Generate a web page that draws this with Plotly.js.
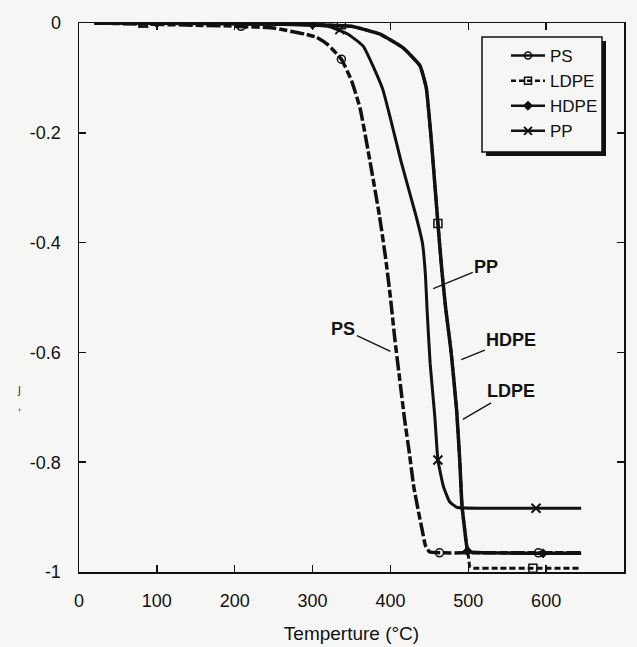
<!DOCTYPE html>
<html>
<head>
<meta charset="utf-8">
<script src="https://cdn.plot.ly/plotly-3.0.1.min.js"></script>
<style>
  html, body { margin: 0; padding: 0; background: #f6f6f4; }
  #chart { width: 637px; height: 647px; }
</style>
</head>
<body>
<div id="chart"></div>
<script>
// Mass-loss curves (weight fraction change vs temperature, °C)
const psTemp = [20, 80, 150, 206, 250, 272, 290, 305, 320, 337, 350, 361, 374, 386, 394, 400, 406, 412, 418, 424, 430, 436, 441, 445, 450, 463, 520, 590, 645];
const psMass = [0, -0.002, -0.004, -0.006, -0.009, -0.015, -0.02, -0.026, -0.04, -0.066, -0.105, -0.155, -0.254, -0.352, -0.43, -0.50, -0.58, -0.65, -0.72, -0.78, -0.845, -0.89, -0.925, -0.952, -0.963, -0.965, -0.965, -0.965, -0.965];

const ldpeTemp = [20, 100, 200, 300, 350, 386, 416, 438, 446, 453, 461, 466, 471, 478, 485, 489, 492, 495.5, 498, 500, 502, 506, 540, 583, 642];
const ldpeMass = [0, 0, -0.001, -0.003, -0.006, -0.02, -0.045, -0.078, -0.118, -0.222, -0.365, -0.45, -0.52, -0.60, -0.705, -0.796, -0.881, -0.924, -0.955, -0.97, -0.99, -0.993, -0.993, -0.993, -0.993];

const hdpeTemp = [20, 100, 200, 300, 350, 386, 416, 438, 446, 453, 461, 466, 471, 478, 485, 489, 492, 495.5, 498, 502, 520, 596, 645];
const hdpeMass = [0, 0, -0.001, -0.003, -0.006, -0.02, -0.045, -0.078, -0.118, -0.222, -0.365, -0.45, -0.52, -0.60, -0.705, -0.796, -0.881, -0.924, -0.952, -0.963, -0.965, -0.966, -0.966];

const ppTemp = [20, 100, 200, 280, 320, 345, 365, 390, 414, 433, 441, 445, 447, 451, 457, 461, 468, 476, 485, 520, 587, 645];
const ppMass = [0, -0.001, -0.002, -0.003, -0.006, -0.02, -0.042, -0.12, -0.254, -0.352, -0.40, -0.46, -0.52, -0.62, -0.717, -0.796, -0.844, -0.872, -0.882, -0.884, -0.884, -0.884];

// Points that carry a symbol on each curve
const psMarkTemp = [82, 208, 337, 463, 590];
const psMarkMass = [0, -0.006, -0.066, -0.965, -0.965];
const ldpeMarkTemp = [82, 208, 337, 461, 583];
const ldpeMarkMass = [0, -0.001, -0.003, -0.365, -0.993];
const hdpeMarkTemp = [100, 300, 499, 596];
const hdpeMarkMass = [0, -0.003, -0.962, -0.966];
const ppMarkTemp = [83, 209, 335, 461, 587];
const ppMarkMass = [0, -0.002, -0.012, -0.796, -0.884];

const xTickVals = [0, 100, 200, 300, 400, 500, 600, 700];
const xTickText = ['0', '100', '200', '300', '400', '500', '600', '700'];
const yTickVals = [0, -0.2, -0.4, -0.6, -0.8, -1];
const yTickText = ['0', '-0.2', '-0.4', '-0.6', '-0.8', '-1'];

const INK = '#111111';
const BG = '#f6f6f4';
const FONT = 'Liberation Sans, Arial, sans-serif';

// plot area in pixels: left 79, top 23, width 545, height 549
const PX = v => (v - 79) / 545;
const PY = v => (572 - v) / 549;

function curve(x, y, dash, width) {
  return { x, y, mode: 'lines', type: 'scatter', showlegend: false, hoverinfo: 'skip',
           line: { color: INK, width, dash, shape: 'spline', smoothing: 0.4 } };
}
function marks(x, y, symbol, size, lw) {
  return { x, y, mode: 'markers', type: 'scatter', showlegend: false, hoverinfo: 'skip',
           marker: { symbol, size, color: INK, line: { color: INK, width: lw } } };
}
function key(name, dash, symbol, size, lw) {
  return { x: [null], y: [null], name, mode: 'lines+markers', type: 'scatter',
           line: { color: INK, width: 2.5, dash }, marker: { symbol, size, color: INK, line: { color: INK, width: lw } } };
}

const data = [
  curve(ldpeTemp, ldpeMass, '6px,3px', 3),
  curve(hdpeTemp, hdpeMass, 'solid', 3.5),
  curve(ppTemp, ppMass, 'solid', 3),
  curve(psTemp, psMass, '14px,3px,8px,3px', 3.5),
  marks(ldpeMarkTemp, ldpeMarkMass, 'square-open', 8, 1.5),
  marks(hdpeMarkTemp, hdpeMarkMass, 'diamond', 7, 1),
  marks(ppMarkTemp, ppMarkMass, 'x-thin-open', 9, 2),
  marks(psMarkTemp, psMarkMass, 'circle-open', 8, 1.5),
  key('PS', 'solid', 'circle-open', 7, 1.5),
  key('LDPE', '5px,3px', 'square-open', 7, 1.5),
  key('HDPE', 'solid', 'diamond', 7, 1),
  key('PP', 'solid', 'x-thin-open', 8, 2)
];

const axisCommon = {
  showgrid: false, zeroline: false, showline: true, linecolor: INK, linewidth: 1.5,
  mirror: 'ticks', ticks: 'inside', ticklen: 7, tickwidth: 1.5, tickcolor: INK,
  tickmode: 'array', tickfont: { family: FONT, size: 18, color: INK }
};

const layout = {
  width: 637, height: 647,
  margin: { l: 79, r: 13, t: 23, b: 75 },
  paper_bgcolor: BG, plot_bgcolor: BG,
  font: { family: FONT, color: INK },
  xaxis: Object.assign({}, axisCommon, {
    range: [0, 700], tickvals: xTickVals, ticktext: xTickText, ticklabelstandoff: 12,
    title: { text: 'Temperture (°C)', font: { family: FONT, size: 19, color: INK }, standoff: 16 }
  }),
  yaxis: Object.assign({}, axisCommon, {
    range: [-1, 0], tickvals: yTickVals, ticktext: yTickText, ticklabelstandoff: 13
  }),
  legend: {
    x: PX(506), y: PY(38), xanchor: 'left', yanchor: 'top',
    bgcolor: 'rgba(0,0,0,0)', borderwidth: 0, itemwidth: 34,
    font: { family: FONT, size: 17, color: INK }
  },
  // legend frame with a drop shadow on the right and bottom
  shapes: [
    { type: 'rect', xref: 'paper', yref: 'paper', layer: 'above',
      x0: PX(486), x1: PX(606), y0: PY(156), y1: PY(41),
      fillcolor: INK, line: { width: 0 } },
    { type: 'rect', xref: 'paper', yref: 'paper', layer: 'above',
      x0: PX(482), x1: PX(602), y0: PY(152), y1: PY(37),
      fillcolor: BG, line: { color: INK, width: 1.5 } }
  ],
  annotations: [
    { x: 400, y: -0.598, ax: -47, ay: -22, text: '<b>PS</b>' },
    { x: 455, y: -0.484, ax: 53, ay: -22, text: '<b>PP</b>' },
    { x: 491, y: -0.613, ax: 50, ay: -20, text: '<b>HDPE</b>' },
    { x: 493, y: -0.722, ax: 48, ay: -28, text: '<b>LDPE</b>' },
    { xref: 'paper', yref: 'paper', x: PX(15), y: PY(415), showarrow: false,
      text: 'ȷ<br>‚', font: { family: FONT, size: 13, color: '#444' } }
  ].map(a => Object.assign({ xref: 'x', yref: 'y', showarrow: true, arrowhead: 0,
      arrowwidth: 1.3, arrowcolor: INK, standoff: 0, startstandoff: 0,
      font: { family: FONT, size: 18, color: INK } }, a)),
  showlegend: true
};

Plotly.newPlot('chart', data, layout, { displayModeBar: false, staticPlot: true });
</script>
</body>
</html>
